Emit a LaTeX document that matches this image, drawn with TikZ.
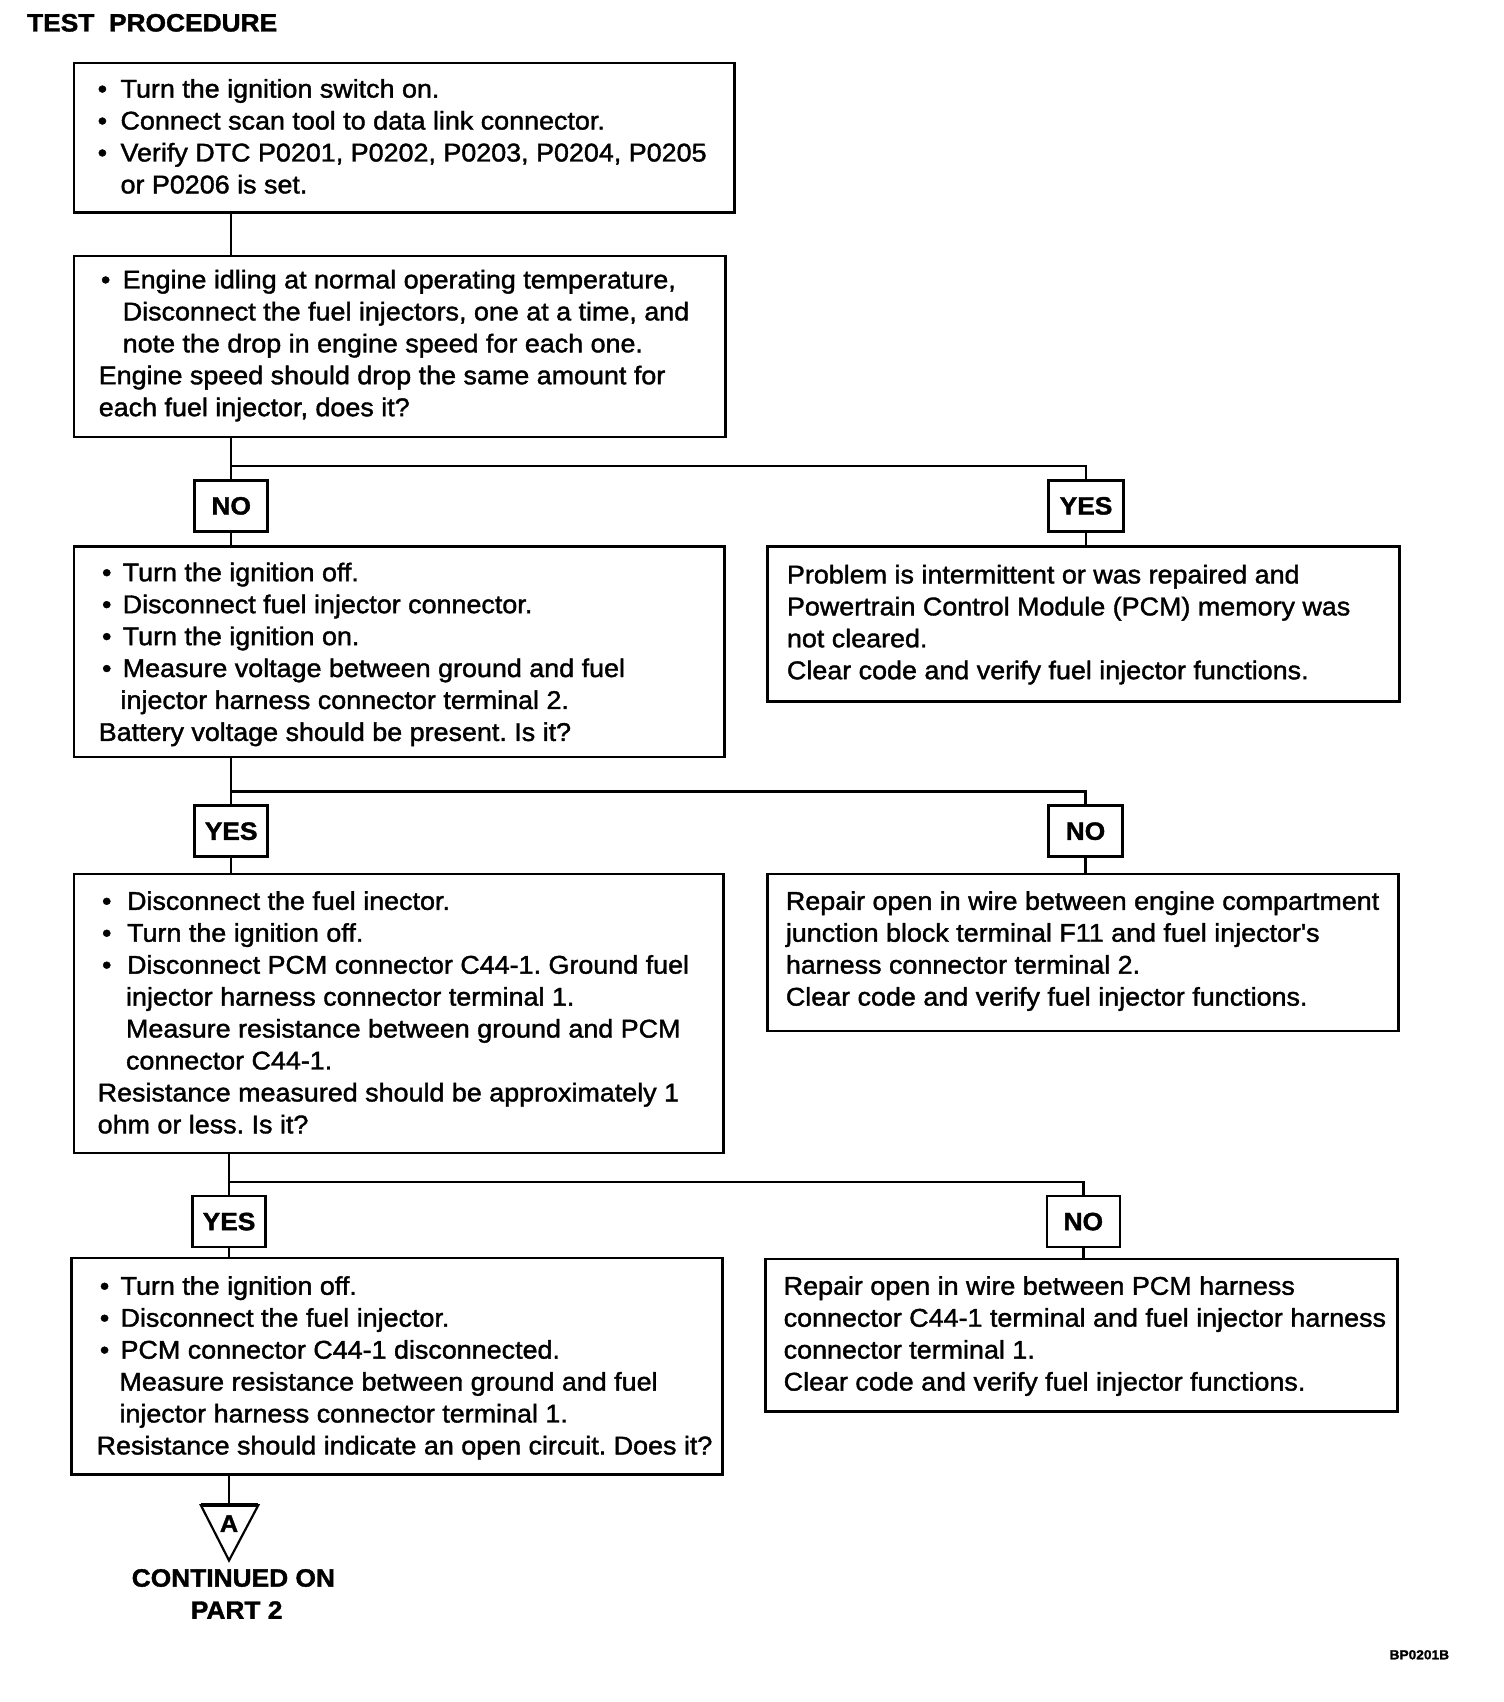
\documentclass[tikz,border=0pt]{standalone}
\usepackage{fontspec}
\setmainfont[FakeStretch=1.05,FakeBold=1.5]{Liberation Sans}
\newfontfamily\plainfont[FakeStretch=1.05,FakeBold=1.5]{Liberation Sans}
\frenchspacing
\newcommand\bodyfont{\fontsize{23.5}{29.4}\selectfont}
\newcommand\lns[1]{\vtop{\baselineskip=29.3pt\lineskiplimit=-20pt\halign{##\hfil\cr#1\crcr}}}
\newcommand\Bu[2]{\kern#1pt\makebox[#2pt][l]{•}}
\newcommand\apos{{\plainfont'}}
\begin{document}
\begin{tikzpicture}[x=0.996pt,y=-0.995pt,
  box/.style={draw, line width=2.4pt, anchor=north west, inner sep=0pt, outer sep=0pt},
  lab/.style={draw, line width=2.4pt, inner sep=0pt, outer sep=0pt, minimum width=67pt, minimum height=47pt, font=\fontsize{23}{26}\selectfont\bfseries},
  wire/.style={line width=2.2pt},
  txt/.style={anchor=base west, inner sep=0pt, outer sep=0pt, font=\bodyfont},
  bold/.style={inner sep=0pt, outer sep=0pt, font=\fontsize{23}{26}\selectfont\bfseries}]
\fill[white] (0pt,0pt) rectangle (1380pt,-1561.7pt);
\useasboundingbox (0pt,0pt) rectangle (1380pt,-1561.7pt);

\node[bold, anchor=base west] (title) at (25,29) {TEST\ \ PROCEDURE};

% boxes
\node[box, minimum width=606pt, minimum height=137pt] (b1) at (68,58) {};
\node[box, minimum width=598pt, minimum height=166pt] (b2) at (68,236) {};
\node[box, minimum width=597pt, minimum height=193pt] (b3) at (68,504) {};
\node[box, minimum width=580pt, minimum height=142pt] (b4) at (707,504) {};
\node[box, minimum width=596pt, minimum height=256pt] (b5) at (68,806) {};
\node[box, minimum width=579pt, minimum height=144pt] (b6) at (707,806) {};
\node[box, minimum width=597pt, minimum height=199pt] (b7) at (66,1160) {};
\node[box, minimum width=580pt, minimum height=140pt] (b8) at (705,1161) {};

% texts
\node[txt] (t1) at (90,90) {\lns{%
\Bu{0}{21}Turn the ignition switch on.\cr
\Bu{0}{21}Connect scan tool to data link connector.\cr
\Bu{0}{21}Verify DTC P0201, P0202, P0203, P0204, P0205\cr
\kern21pt or P0206 is set.\cr}};

\node[txt] (t2) at (91,266) {\lns{%
\Bu{2}{20}Engine idling at normal operating temperature,\cr
\kern22pt Disconnect the fuel injectors, one at a time, and\cr
\kern22pt note the drop in engine speed for each one.\cr
Engine speed should drop the same amount for\cr
each fuel injector, does it?\cr}};

\node[txt] (t3) at (91,536) {\lns{%
\Bu{3}{19}Turn the ignition off.\cr
\Bu{3}{19}Disconnect fuel injector connector.\cr
\Bu{3}{19}Turn the ignition on.\cr
\Bu{3}{19}Measure voltage between ground and fuel\cr
\kern20pt injector harness connector terminal 2.\cr
Battery voltage should be present. Is it?\cr}};

\node[txt] (t4) at (725,538) {\lns{%
Problem is intermittent or was repaired and\cr
Powertrain Control Module (PCM) memory was\cr
not cleared.\cr
Clear code and verify fuel injector functions.\cr}};

\node[txt] (t5) at (90,839) {\lns{%
\Bu{4}{23}Disconnect the fuel inector.\cr
\Bu{4}{23}Turn the ignition off.\cr
\Bu{4}{23}Disconnect PCM connector C44-1. Ground fuel\cr
\kern26pt injector harness connector terminal 1.\cr
\kern26pt Measure resistance between ground and PCM\cr
\kern26pt connector C44-1.\cr
Resistance measured should be approximately 1\cr
ohm or less. Is it?\cr}};

\node[txt] (t6) at (724,839) {\lns{%
Repair open in wire between engine compartment\cr
junction block terminal F11 and fuel injector\apos s\cr
harness connector terminal 2.\cr
Clear code and verify fuel injector functions.\cr}};

\node[txt] (t7) at (89,1194) {\lns{%
\Bu{3}{19}Turn the ignition off.\cr
\Bu{3}{19}Disconnect the fuel injector.\cr
\Bu{3}{19}PCM connector C44-1 disconnected.\cr
\kern21pt Measure resistance between ground and fuel\cr
\kern21pt injector harness connector terminal 1.\cr
Resistance should indicate an open circuit. Does it?\cr}};

\node[txt] (t8) at (722,1194) {\lns{%
Repair open in wire between PCM harness\cr
connector C44-1 terminal and fuel injector harness\cr
connector terminal 1.\cr
Clear code and verify fuel injector functions.\cr}};

% decision labels
\node[lab] (n1) at (213,466.5) {NO};
\node[lab, minimum width=69pt] (y1) at (1000.5,466.5) {YES};
\node[lab] (y2) at (213,766.5) {YES};
\node[lab, minimum width=68pt] (n2) at (1000,766.5) {NO};
\node[lab] (y3) at (211,1126.5) {YES};
\node[lab] (n3) at (998,1126.5) {NO};

% junction points
\coordinate (j1) at (213,430);
\coordinate (j2) at (213,730);
\coordinate (j3) at (211,1090);

% connectors
\draw[wire] (b1.south -| n1) -- (b2.north -| n1);
\draw[wire] (b2.south -| n1) -- (n1.north);
\draw[wire] (j1) -| (y1.north);
\draw[wire] (n1.south) -- (b3.north -| n1);
\draw[wire] (y1.south) -- (b4.north -| y1);

\draw[wire] (b3.south -| y2) -- (y2.north);
\draw[wire] (j2) -| (n2.north);
\draw[wire] (y2.south) -- (b5.north -| y2);
\draw[wire] (n2.south) -- (b6.north -| n2);

\draw[wire] (b5.south -| y3) -- (y3.north);
\draw[wire] (j3) -| (n3.north);
\draw[wire] (y3.south) -- (b7.north -| y3);
\draw[wire] (n3.south) -- (b8.north -| n3);

% off-page connector
\coordinate (ta) at (185,1388);
\coordinate (tb) at (238,1388);
\coordinate (tc) at (211,1439);
\draw[line width=2pt, line join=miter] (ta) -- (tb) -- (tc) -- cycle;
\draw[line width=3.5pt] (ta) -- (tb);
\node[bold, font=\fontsize{22}{24}\selectfont\bfseries] (A) at (211,1405) {A};
\draw[wire] (b7.south -| tc) -- (tc |- ta);

\node[bold, align=center, font=\fontsize{23}{29.5}\selectfont\bfseries, anchor=north] (cont) at (215,1447) {CONTINUED ON\\ \kern6pt PART 2};

\node[bold, font=\fontsize{12}{14}\selectfont\bfseries, anchor=east] (code) at (1335,1526) {BP0201B};
\end{tikzpicture}
\end{document}
